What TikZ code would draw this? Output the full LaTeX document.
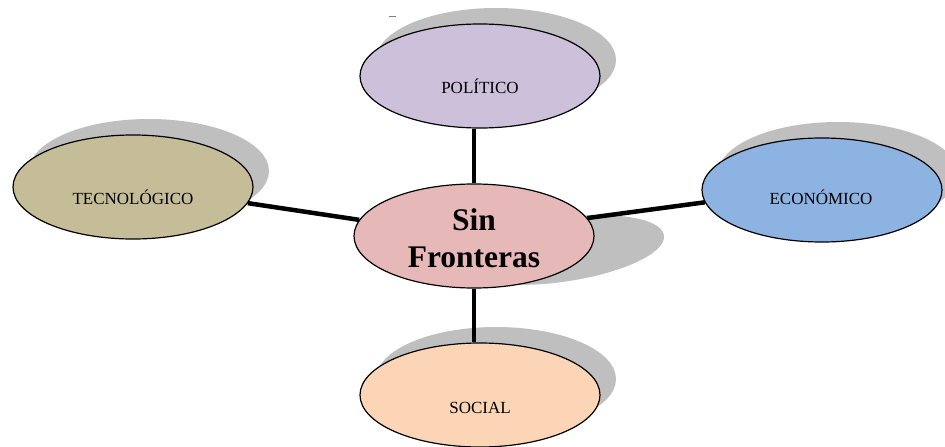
\documentclass[tikz,border=0pt]{standalone}
\usepackage{fontspec}
\setmainfont{Liberation Serif}
\usetikzlibrary{shapes.geometric,backgrounds}
\definecolor{polc}{HTML}{CCC0DA}
\definecolor{tecc}{HTML}{C4BD97}
\definecolor{ecoc}{HTML}{8DB3E2}
\definecolor{cenc}{HTML}{E6B9B8}
\definecolor{socc}{HTML}{FBD5B5}
\definecolor{shadowc}{HTML}{BFBFBF}
\tikzset{
  bubble/.style={ellipse, draw=black, line width=1.2pt, minimum width=240pt, minimum height=104pt, inner sep=0pt},
  lbl/.style={anchor=base, inner sep=0pt, font=\fontsize{17}{20}\selectfont},
  bigl/.style={anchor=base, inner sep=0pt, font=\fontsize{31.5}{36}\selectfont\bfseries},
  link/.style={line width=4.5pt, black},
  shade/.style={fill=shadowc, draw=none}
}
\begin{document}
\begin{tikzpicture}[x=1pt,y=-1pt]
\useasboundingbox (0,0) rectangle (945,447);
\node[bubble, fill=polc] (pol) at (480,76) {};
\node[bubble, fill=tecc] (tec) at (133,187) {};
\node[bubble, fill=ecoc] (eco) at (822,190) {};
\node[bubble, fill=cenc] (cen) at (474,236) {};
\node[bubble, fill=socc] (soc) at (480,395) {};
\node[lbl] (polt) at (480,93) {POLÍTICO};
\node[lbl] (tect) at (133,204) {TECNOLÓGICO};
\node[lbl] (ecot) at (821,204) {ECONÓMICO};
\node[lbl] (soct) at (480,413) {SOCIAL};
\node[bigl] (cen1) at (474,230) {Sin};
\node[bigl] (cen2) at (474,267) {Fronteras};
\begin{pgfonlayer}{background}
  \foreach \n in {pol,tec,eco,soc}{
    \fill[shade] ([xshift=16pt,yshift=16pt]\n.center) ellipse [x radius=120pt, y radius=52pt];
  }
  \fill[shade, rotate around={8:(560,250)}] (560,250) ellipse [x radius=105pt, y radius=32pt];
  \draw[link] (tec.-8) -- (cen.172);
  \draw[link] (cen.9) -- (eco.186);
  \draw[link] (cen.north) -- (cen.north |- pol.south);
  \draw[link] (cen.south) -- (cen.south |- soc.north);
\end{pgfonlayer}
\coordinate (d1) at (389,16);
\coordinate (d2) at (396,16);
\draw[gray, line width=1pt] (d1) -- (d2);
\end{tikzpicture}
\end{document}
